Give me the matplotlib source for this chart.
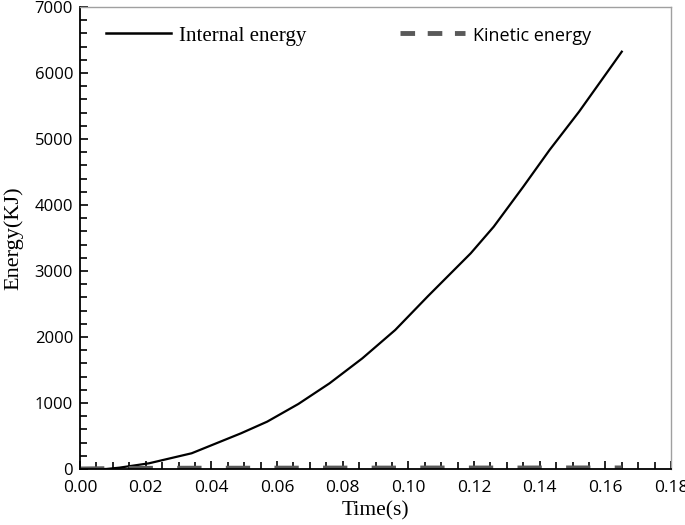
import numpy as np
import matplotlib.pyplot as plt
from matplotlib.lines import Line2D
from matplotlib.ticker import MultipleLocator

# data
time_s = [0.0, 0.008, 0.012, 0.021, 0.034, 0.049, 0.057, 0.0665, 0.076, 0.086,
          0.096, 0.106, 0.119, 0.126, 0.135, 0.143, 0.152, 0.1625, 0.165]
internal_kj = [0, 0, 20, 86, 238, 540, 717, 985, 1298, 1677,
               2106, 2620, 3268, 3671, 4277, 4833, 5414, 6147, 6323]
kinetic_kj = [0, 5, 8, 10, 12, 12, 13, 13, 14, 14,
              14, 15, 15, 15, 15, 16, 16, 16, 16]

SERIF = "Liberation Serif"
SANS = "Open Sans"
KIN_COLOR = "#595959"

fig = plt.figure(figsize=(6.85, 5.25), dpi=100)
ax = fig.add_axes([0.1168, 0.1067, 0.8628, 0.88])

ax.plot(time_s, internal_kj, color="black", lw=1.6)
ax.plot(time_s, kinetic_kj, color=KIN_COLOR, lw=3.5, dashes=(5, 5))

ax.set_xlim(0, 0.18)
ax.set_ylim(0, 7000)
ax.xaxis.set_major_locator(MultipleLocator(0.02))
ax.xaxis.set_minor_locator(MultipleLocator(0.005))
ax.yaxis.set_major_locator(MultipleLocator(1000))
ax.yaxis.set_minor_locator(MultipleLocator(200))
ax.set_xticklabels([f"{v:.2f}" for v in ax.get_xticks()])

ax.tick_params(which="both", direction="in", top=False, right=False,
               width=1.2, color="black")
ax.tick_params(which="major", length=6)
ax.tick_params(which="minor", length=5)
ax.tick_params(axis="x", labelsize=12.5, pad=8)
ax.tick_params(axis="y", labelsize=12, pad=5)
for lab in ax.get_xticklabels() + ax.get_yticklabels():
    lab.set_family(SANS)

for side in ["left", "bottom"]:
    ax.spines[side].set_color("black")
    ax.spines[side].set_linewidth(1.3)
for side in ["top", "right"]:
    ax.spines[side].set_color("#a0a0a0")
    ax.spines[side].set_linewidth(1.0)

ax.set_xlabel("Time(s)", family=SERIF, fontsize=15.5, labelpad=4)
ax.set_ylabel("Energy(KJ)", family=SERIF, fontsize=16, labelpad=8)

# legend handles (shorter dashes than the plotted line, as in the original)
handles = [
    Line2D([], [], color="black", lw=1.8),
    Line2D([], [], color=KIN_COLOR, lw=3.5, dashes=(3.0, 2.6)),
]
leg = ax.legend(handles, ["Internal energy", "Kinetic energy"],
                loc="upper left", bbox_to_anchor=(0.013, 0.999), ncol=2,
                frameon=False, prop={"family": SERIF, "size": 15},
                handlelength=3.1, columnspacing=4.5, handletextpad=0.4)
leg.get_texts()[1].set_family(SANS)
leg.get_texts()[1].set_fontsize(13)

fig.savefig("out.png", dpi=100)
